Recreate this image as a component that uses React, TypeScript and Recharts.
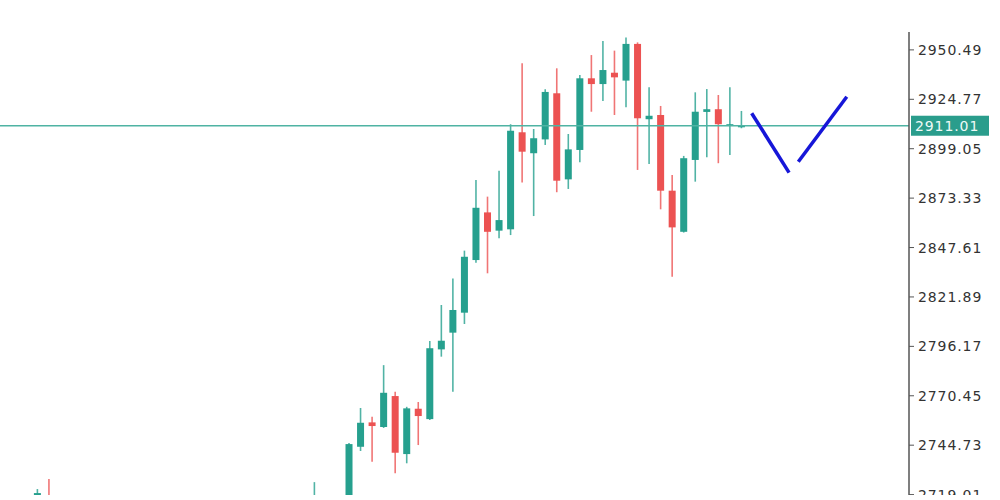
import React from "react";
import { ComposedChart, Bar, Line, XAxis, YAxis, ReferenceLine } from "recharts";

// candle slot index (0 = leftmost visible slot)
const slots = [0, 1, 24, 27, 28, 29, 30, 31, 32, 33, 34, 35, 36, 37, 38, 39, 40, 41, 42, 43, 44, 45, 46, 47, 48, 49, 50, 51, 52, 53, 54, 55, 56, 57, 58, 59, 60, 61];
const opens = [2714, 2716, 2702, 2712, 2743.9, 2756.6, 2754.2, 2770.3, 2740.1, 2763.7, 2758.3, 2794.6, 2803.3, 2813.7, 2841.1, 2865.9, 2856.4, 2857.1, 2907.6, 2896.7, 2903.9, 2927.9, 2883.1, 2898.4, 2935.7, 2932.7, 2938.6, 2934.5, 2953.6, 2914.4, 2916.6, 2877.2, 2855.8, 2893.2, 2918.2, 2919.6, 2910.9, 2910.2];
const highs = [2721.9, 2727.1, 2725.5, 2745.9, 2764.1, 2759.5, 2786.4, 2772.5, 2764.7, 2767.2, 2799.0, 2817.7, 2831.5, 2846.0, 2882.8, 2874.1, 2887.6, 2911.8, 2943.5, 2909.3, 2930.0, 2940.9, 2906.7, 2937.4, 2947.8, 2955.1, 2950.1, 2957.0, 2954.4, 2931.0, 2921.3, 2885.4, 2895.3, 2928.4, 2930.1, 2927.0, 2931.0, 2918.7];
const lows = [2708, 2700, 2698, 2708, 2741.7, 2736.1, 2753.7, 2730.1, 2735.3, 2744.8, 2757.8, 2790.8, 2772.5, 2807.8, 2839.7, 2834.2, 2852.4, 2854.1, 2881.4, 2864.0, 2901.0, 2876.4, 2878.1, 2892.0, 2918.3, 2923.9, 2916.6, 2920.6, 2888.0, 2891.1, 2867.5, 2832.4, 2855.4, 2881.9, 2894.6, 2891.5, 2895.8, 2909.7];
const closes = [2719.8, 2706, 2716, 2745.3, 2756.4, 2754.7, 2772.0, 2740.8, 2763.9, 2759.9, 2795.2, 2799.1, 2815.1, 2842.8, 2868.3, 2855.8, 2861.9, 2908.4, 2897.5, 2904.5, 2928.6, 2882.4, 2898.7, 2935.7, 2932.7, 2940.0, 2936.2, 2953.6, 2914.9, 2916.2, 2877.2, 2858.1, 2894.1, 2918.3, 2919.6, 2911.8, 2911.8, 2911.0];

const yTicks = [2719.01, 2744.73, 2770.45, 2796.17, 2821.89, 2847.61, 2873.33, 2899.05, 2924.77, 2950.49];
const currentPrice = 2911.01;

// hand-drawn blue "V" strokes (slot, price)
const strokeDown = [
  { i: 61.88, v: 2917.5 },
  { i: 65.12, v: 2886.6 },
];
const strokeUp = [
  { i: 65.92, v: 2892.3 },
  { i: 70.12, v: 2926.1 },
];

const UP = "#26a08e";
const DOWN = "#ec5252";

const data = slots.map((i, k) => ({
  i,
  open: opens[k],
  high: highs[k],
  low: lows[k],
  close: closes[k],
}));

const Candle = (props: any) => {
  const { x, y, width, height, payload } = props;
  if (x == null || y == null) return null;
  const top = Math.min(y, y + height);
  const h = Math.abs(height);
  const { open, high, low, close } = payload;
  const k = high - low === 0 ? 0 : h / (high - low);
  const cx = x + width / 2;
  const bTop = top + (high - Math.max(open, close)) * k;
  const bBot = top + (high - Math.min(open, close)) * k;
  const color = close >= open ? UP : DOWN;
  const bw = 7;
  return (
    <g>
      <line x1={cx} x2={cx} y1={top} y2={top + h} stroke={color} strokeWidth={1.6} strokeOpacity={0.8} />
      <rect x={cx - bw / 2} y={bTop} width={bw} height={Math.max(bBot - bTop, 1.5)} fill={color} />
    </g>
  );
};

const PriceLabel = (props: any) => {
  const vb = props.viewBox || {};
  const x = (vb.x || 0) + (vb.width || 0) + 2;
  const y = vb.y || 0;
  return (
    <g>
      <rect x={x} y={y - 10} width={78} height={20} fill="#2a9d8c" />
      <text x={x + 4} y={y + 5} fill="#eefaf7" fontSize={14} fontFamily="DejaVu Sans" letterSpacing={0.9}>
        {currentPrice.toFixed(2)}
      </text>
    </g>
  );
};

export default function App() {
  return (
    <div style={{ position: "absolute", left: 0, top: 0, width: 1000, height: 500, background: "#ffffff" }}>
      <ComposedChart width={1000} height={495} data={data} margin={{ top: 32, right: 0, bottom: 0, left: 0 }}>
        <XAxis dataKey="i" type="number" domain={[-3.25, 75.51]} hide allowDataOverflow />
        <YAxis
          orientation="right"
          width={91}
          domain={[2718.8, 2959.8]}
          allowDataOverflow
          ticks={yTicks}
          interval={0}
          tickFormatter={(v: number) => v.toFixed(2)}
          axisLine={{ stroke: "#555", strokeWidth: 1.5 }}
          tickLine={{ stroke: "#555", strokeWidth: 1 }}
          tickSize={5}
          tickMargin={4}
          tick={{ fill: "#333", fontSize: 14, fontFamily: "DejaVu Sans", letterSpacing: 0.9, textAnchor: "start" }}
        />
        <ReferenceLine y={currentPrice} stroke="#4fb3a3" strokeWidth={1.6} label={<PriceLabel />} />
        <Bar dataKey={(d: any) => [d.low, d.high]} barSize={7} shape={<Candle />} isAnimationActive={false} />
        <Line data={strokeDown} dataKey="v" stroke="#1616d8" strokeWidth={3.5} dot={false} isAnimationActive={false} />
        <Line data={strokeUp} dataKey="v" stroke="#1616d8" strokeWidth={3.5} dot={false} isAnimationActive={false} />
      </ComposedChart>
    </div>
  );
}
